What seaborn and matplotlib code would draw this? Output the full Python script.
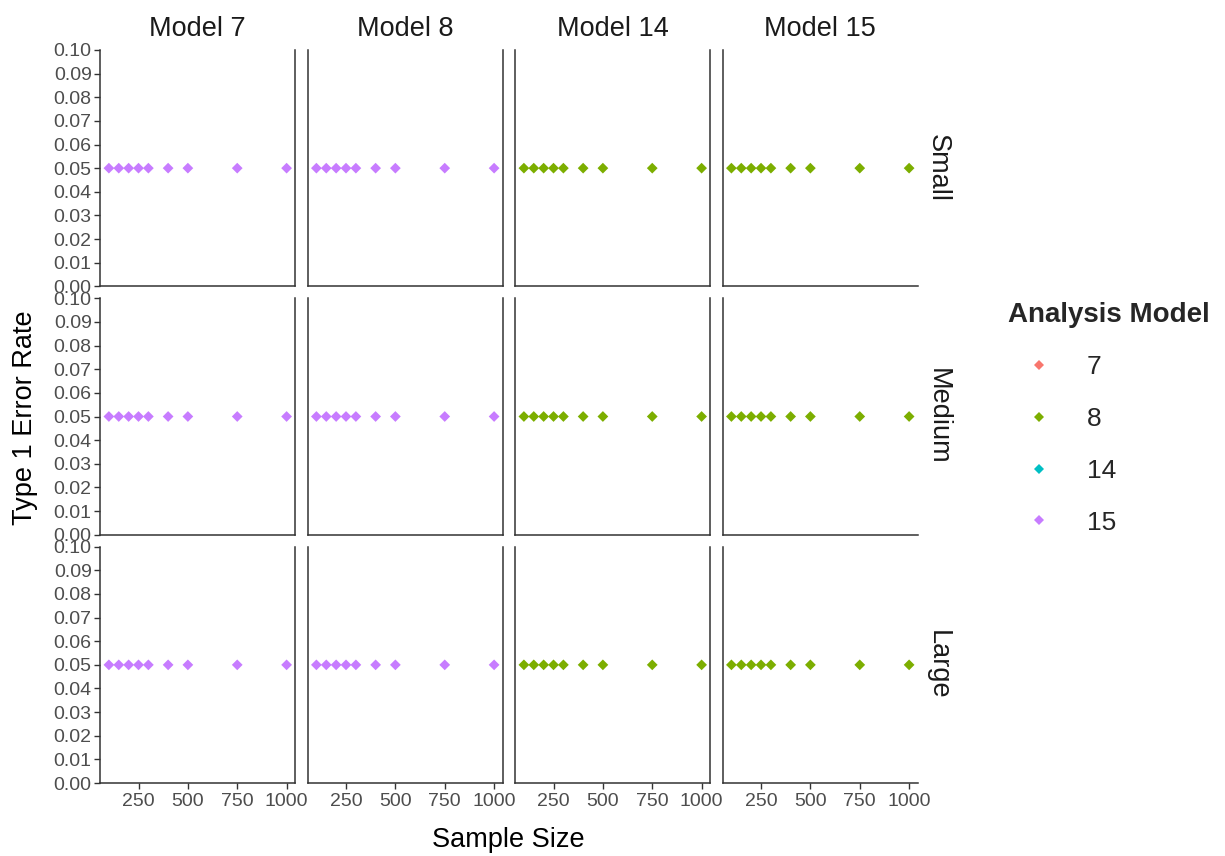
import matplotlib
matplotlib.use("Agg")
import matplotlib.pyplot as plt
import seaborn as sns
import pandas as pd
from matplotlib.lines import Line2D

# ---------------- data ----------------
sample_sizes = [100, 150, 200, 250, 300, 400, 500, 750, 1000]
effect_sizes = ["Small", "Medium", "Large"]
panel_models = ["Model 7", "Model 8", "Model 14", "Model 15"]
analysis_by_panel = ["15", "15", "8", "8"]
analysis_levels = ["7", "8", "14", "15"]
error_small = [0.05, 0.05, 0.05, 0.05, 0.05, 0.05, 0.05, 0.05, 0.05]
error_medium = [0.05, 0.05, 0.05, 0.05, 0.05, 0.05, 0.05, 0.05, 0.05]
error_large = [0.05, 0.05, 0.05, 0.05, 0.05, 0.05, 0.05, 0.05, 0.05]
errors_by_effect = {"Small": error_small, "Medium": error_medium, "Large": error_large}
y_ticks = [0.00, 0.01, 0.02, 0.03, 0.04, 0.05, 0.06, 0.07, 0.08, 0.09, 0.10]
x_ticks = [250, 500, 750, 1000]

palette = {"7": "#F8766D", "8": "#7CAE00", "14": "#00BFC4", "15": "#C77CFF"}

rows = []
for eff in effect_sizes:
    for pm, am in zip(panel_models, analysis_by_panel):
        for n, v in zip(sample_sizes, errors_by_effect[eff]):
            rows.append({"effect": eff, "panel": pm, "analysis": am,
                         "size": n, "rate": v})
df = pd.DataFrame(rows)

# ---------------- style ----------------
sns.set_theme(style="white")
plt.rcParams["font.family"] = ["Liberation Sans", "DejaVu Sans"]

W, H = 1225, 856
fig = plt.figure(figsize=(W / 100, H / 100), dpi=100)
axes = fig.subplots(3, 4)
fig.subplots_adjust(left=100 / W, right=918 / W, top=1 - 50 / H,
                    bottom=1 - 783 / H, wspace=0.0615, hspace=0.051)

spine_c = "#333333"
tick_c = "#4D4D4D"

for r, eff in enumerate(effect_sizes):
    for c, pm in enumerate(panel_models):
        ax = axes[r, c]
        sub = df[(df["effect"] == eff) & (df["panel"] == pm)]
        sns.scatterplot(data=sub, x="size", y="rate", hue="analysis",
                        hue_order=analysis_levels, palette=palette,
                        marker="D", s=30, linewidth=0, legend=False, ax=ax)
        ax.set_xlim(55, 1045)
        ax.set_ylim(0, 0.10)
        ax.set_xticks(x_ticks)
        ax.set_yticks(y_ticks)
        ax.set_yticklabels([f"{t:.2f}" for t in y_ticks])
        ax.set_xlabel("")
        ax.set_ylabel("")
        ax.grid(False)
        ax.spines["top"].set_visible(False)
        ax.spines["right"].set_visible(c < 3)
        for s in ["left", "bottom", "right"]:
            ax.spines[s].set_color(spine_c)
            ax.spines[s].set_linewidth(1.1)
        ax.tick_params(axis="y", left=(c == 0), labelleft=(c == 0),
                       length=4, width=1, color=spine_c,
                       labelcolor=tick_c, labelsize=14, pad=2)
        ax.tick_params(axis="x", bottom=(r == 2), labelbottom=(r == 2),
                       length=4, width=1, color=spine_c,
                       labelcolor=tick_c, labelsize=14, pad=3)
        if r == 0:
            ax.set_title(pm, fontsize=19.5, color="#1A1A1A", pad=10)
        if c == 3:
            ax.text(1.035, 0.5, eff, transform=ax.transAxes, rotation=270,
                    ha="left", va="center", fontsize=19.5, color="#1A1A1A")

fig.text(25 / W, 1 - 418 / H, "Type 1 Error Rate", rotation=90,
         ha="center", va="center", fontsize=19.5, color="black")
fig.text(508 / W, 1 - 840 / H, "Sample Size", ha="center", va="center",
         fontsize=19.5, color="black")

handles = [Line2D([0], [0], marker="D", linestyle="", markersize=5.2,
                  markerfacecolor=palette[l], markeredgewidth=0)
           for l in analysis_levels]
leg = fig.legend(handles, analysis_levels, title="Analysis Model",
                 loc="upper left", bbox_to_anchor=(984 / W, 1 - 278 / H),
                 frameon=False, fontsize=19, title_fontsize=20,
                 labelspacing=1.05, handletextpad=0.6, handlelength=2.4,
                 alignment="left")
leg.get_title().set_fontweight("bold")

fig.savefig("out.png", dpi=100)
